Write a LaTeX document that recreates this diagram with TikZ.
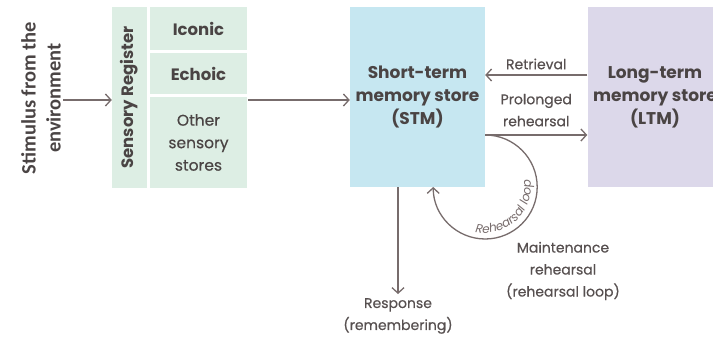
\documentclass[tikz,border=0pt]{standalone}
\usepackage{fontspec}
\setmainfont{Poppins}
\newfontfamily\labfont{Poppins}[FakeBold=0.5]
\newfontfamily\stimfont{Carlito}
\usetikzlibrary{arrows.meta,decorations.text}
\definecolor{srgreen}{HTML}{DDEEE4}
\definecolor{stmblue}{HTML}{C6E7F1}
\definecolor{ltmlav}{HTML}{DCD8EA}
\definecolor{txtdark}{HTML}{4A4444}
\definecolor{txtlab}{HTML}{575050}
\definecolor{arrcol}{HTML}{776C6C}
\tikzset{
  x=1pt,y=1pt,
  cell/.style={fill=srgreen, draw=none, inner sep=0pt, align=center, text=txtdark},
  store/.style={draw=none, inner sep=0pt, align=center, text=txtdark,
    font=\fontsize{17}{23}\selectfont\bfseries, minimum width=135, minimum height=180},
  lab/.style={text=txtlab, align=center, inner sep=1pt, font=\labfont\fontsize{14}{22}\selectfont},
  arr/.style={draw=arrcol, line width=1.3pt, -{Straight Barb[length=5.5pt,width=12pt,line width=1.3pt]}},
}
\begin{document}
\begin{tikzpicture}
\useasboundingbox (0,0) rectangle (713,340);
\clip (0,0) rectangle (713,340);
% stimulus
\node[rotate=90, text=txtdark, align=center, inner sep=0pt,
  font=\stimfont\fontsize{20.5}{25}\selectfont\bfseries] (stim) at (41,242) {Stimulus from the\\environment};
% sensory register
\node[cell, minimum width=35, minimum height=181] (srl) at (129.5,242.5) {};
\node[rotate=90, text=txtdark, inner sep=0pt, font=\fontsize{16.5}{18}\selectfont\bfseries] (srlt) at (srl.center) {Sensory Register};
\node[cell, minimum width=97, minimum height=43, font=\fontsize{16.5}{18}\selectfont\bfseries] (iconic) at (198.5,311.5) {Iconic};
\node[cell, minimum width=97, minimum height=41, font=\fontsize{16.5}{18}\selectfont\bfseries] (echoic) at (198.5,266.5) {Echoic};
\node[cell, minimum width=97, minimum height=91, font=\labfont\fontsize{15.5}{22.5}\selectfont] (other) at (198.5,197.5) {Other\\sensory\\stores};
% stores
\node[store, fill=stmblue] (stm) at (417.5,243) {Short-term\\memory store\\(STM)};
\node[store, fill=ltmlav] (ltm) at (655,243) {Long-term\\memory store\\(LTM)};
% connectors
\coordinate (s0) at (63,240);
\draw[arr] (s0) -- (s0 -| srl.west);
\coordinate (s1) at (248,240);
\draw[arr] (s1) -- (s1 -| stm.west);
\coordinate (r0) at (587,265);
\draw[arr] (r0 -| ltm.west) -- (r0 -| stm.east) node[lab, midway, above=4pt] (retr) {Retrieval};
\coordinate (p0) at (485,205);
\draw[arr] (p0 -| stm.east) -- (p0 -| ltm.west) node[lab, midway, above=7pt] (prol) {Prolonged\\rehearsal};
% rehearsal loop
\coordinate (lc) at (485,153);
\draw[arr] (p0 -| stm.east) arc[start angle=90, end angle=-180, radius=52];
\path[decorate, decoration={text along path, text align=center,
  text={|\itshape\fontsize{12}{12}\selectfont\color{arrcol}|Rehearsal loop}}]
  (lc) ++(-115:46) arc[start angle=-115, end angle=22, radius=46];
% response
\node[lab] (resp) at (398,24) {Response\\(remembering)};
\draw[arr] (stm.south -| resp.north) -- ([yshift=3pt]resp.north);
% maintenance
\node[lab] (maint) at (563,69) {Maintenance\\rehearsal\\(rehearsal loop)};
\end{tikzpicture}
\end{document}
